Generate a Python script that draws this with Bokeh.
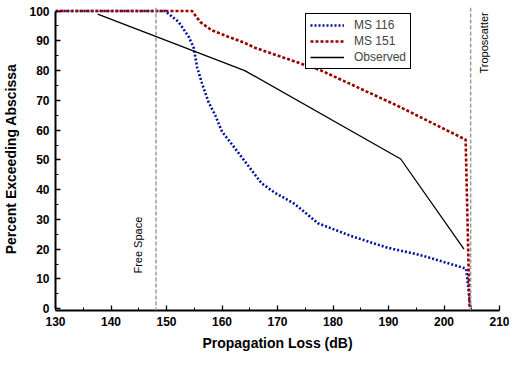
import math
from bokeh.plotting import figure
from bokeh.models import Legend, LegendItem, Label, Span, FixedTicker, Range1d
from bokeh.embed import file_html
from bokeh.resources import INLINE

# ---- data ----
ms116_x = [130, 149.8, 152.2, 154.0, 154.9, 155.5, 156.4, 157.6, 158.8, 160.0, 161.8, 163.8,
           164.7, 167.1, 169.5, 173.1, 177.3, 183.3, 189.8, 195.8, 201.8, 204.0, 204.8]
ms116_y = [100, 100, 96.3, 91.4, 87.7, 81.2, 75.7, 69.3, 64.9, 59.5, 55.2, 50.3,
           48.1, 42.2, 39.0, 35.2, 28.7, 24.4, 20.5, 18.0, 14.7, 13.4, 0]

ms151_x = [130, 154.6, 155.2, 156.1, 158.1, 161.1, 164.1, 165.9, 177.9, 191.6, 203.9, 204.6]
ms151_y = [100, 100, 98.5, 96.3, 93.6, 91.4, 89.3, 87.7, 80.0, 68.2, 56.8, 0]

obs_x = [137.6, 164.1, 192.2, 203.6]
obs_y = [99.0, 80.0, 50.3, 20.0]

free_space_x = 148.1
troposcatter_x = 204.8

x_ticks = [130, 140, 150, 160, 170, 180, 190, 200, 210]
y_ticks = [0, 10, 20, 30, 40, 50, 60, 70, 80, 90, 100]

FONT = "Liberation Sans"

p = figure(frame_width=444, frame_height=303, output_backend="svg", toolbar_location=None,
           x_range=Range1d(130, 210), y_range=Range1d(-0.6, 101.2),
           min_border_left=48, min_border_right=10, min_border_top=7, min_border_bottom=43)
p.outline_line_color = None
p.grid.visible = False
p.background_fill_color = "white"

# reference lines
for xv in (free_space_x, troposcatter_x):
    p.add_layout(Span(location=xv, dimension="height", line_color="#9a9a9a",
                      line_dash="4 2", line_width=1.5))

r116 = p.line(ms116_x, ms116_y, line_color="#00139a", line_width=2.6, line_dash="2 2")
r151 = p.line(ms151_x, ms151_y, line_color="#990000", line_width=2.6, line_dash="3 2")
robs = p.line(obs_x, obs_y, line_color="black", line_width=1.3)

# axes
for ax in (p.xaxis[0], p.yaxis[0]):
    ax.axis_line_width = 2
    ax.axis_line_color = "black"
    ax.major_tick_in = 5
    ax.major_tick_out = 0
    ax.minor_tick_in = 3
    ax.minor_tick_out = 0
    ax.major_tick_line_width = 1.3
    ax.minor_tick_line_width = 1
    ax.major_label_text_font = FONT
    ax.major_label_text_font_style = "bold"
    ax.major_label_text_font_size = "12px"
    ax.major_label_text_color = "black"
    ax.axis_label_text_font = FONT
    ax.axis_label_text_font_style = "bold"
    ax.axis_label_text_font_size = "14px"
    ax.axis_label_text_color = "black"

p.xaxis[0].ticker = FixedTicker(ticks=x_ticks, minor_ticks=[v + 5 for v in x_ticks[:-1]])
p.yaxis[0].ticker = FixedTicker(ticks=y_ticks, minor_ticks=[v + 5 for v in y_ticks[:-1]])
p.yaxis[0].bounds = (0, 100)
p.xaxis[0].axis_label = "Propagation Loss (dB)"
p.yaxis[0].axis_label = "Percent Exceeding Abscissa"
p.xaxis[0].major_label_standoff = 6
p.xaxis[0].axis_label_standoff = 6
p.yaxis[0].major_label_standoff = 6
p.yaxis[0].axis_label_standoff = 7

# annotations
p.add_layout(Label(x=free_space_x, y=11.8, text="Free Space", angle=math.pi / 2,
                   x_offset=-12, text_align="left", text_baseline="bottom",
                   text_font=FONT, text_font_size="11px", text_color="black"))
p.add_layout(Label(x=troposcatter_x, y=79, text="Troposcatter", angle=math.pi / 2,
                   x_offset=7, text_align="left", text_baseline="top",
                   text_font=FONT, text_font_size="11px", text_color="black"))

legend = Legend(items=[LegendItem(label="MS 116", renderers=[r116]),
                       LegendItem(label="MS 151", renderers=[r151]),
                       LegendItem(label="Observed", renderers=[robs])],
                location=(250, 241), orientation="vertical",
                label_text_font=FONT, label_text_font_size="12px",
                border_line_color="black", border_line_width=1, border_line_alpha=1,
                glyph_width=34, glyph_height=14, label_height=14,
                spacing=2, padding=4, margin=0, label_standoff=10,
                background_fill_color="white", background_fill_alpha=1)
p.add_layout(legend, "center")

open("out.html", "w").write(file_html(p, INLINE))
